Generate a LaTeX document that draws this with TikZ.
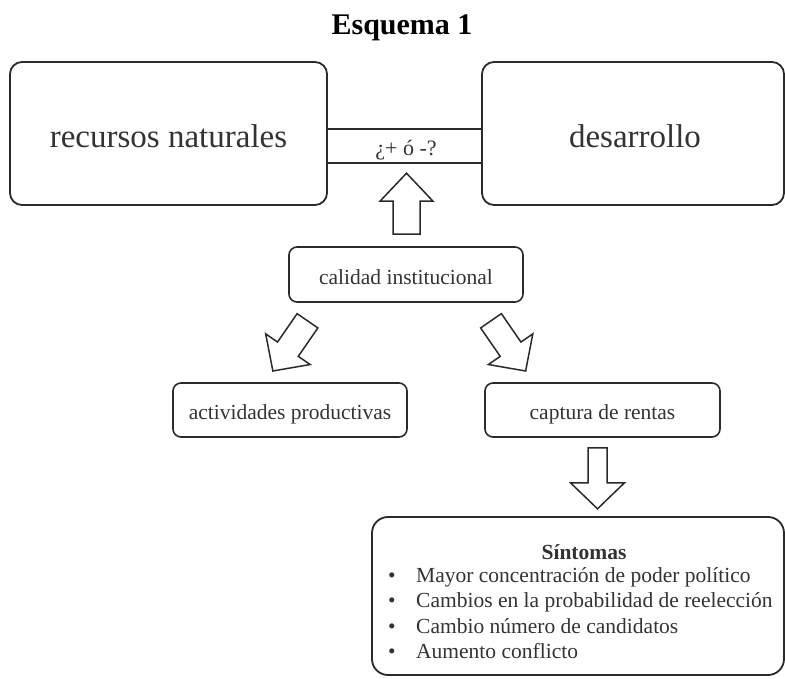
\documentclass[tikz,border=0pt]{standalone}
\usepackage{fontspec}
\setmainfont{Liberation Serif}
\usetikzlibrary{calc}
\definecolor{ink}{HTML}{2A2A2A}
\definecolor{txt}{HTML}{333333}
\newcommand\blkarrow[6]{%
  \draw[blockarr, shift={#1}, rotate=#2]
    (0,-#4) -- ({#3-#6},-#4) -- ({#3-#6},-#5) -- (#3,0) -- ({#3-#6},#5) -- ({#3-#6},#4) -- (0,#4) -- cycle;}
\tikzset{
  bigbox/.style={draw=ink, line width=1.8pt, rounded corners=12pt, inner sep=0pt},
  smallbox/.style={draw=ink, line width=1.6pt, rounded corners=8pt, inner sep=0pt, minimum width=234pt, minimum height=54pt},
  blockarr/.style={draw=ink, line width=1.5pt, fill=white, line join=miter},
  bigtxt/.style={text=txt, font=\fontsize{33}{36}\selectfont, inner sep=0pt, anchor=base},
  smalltxt/.style={text=txt, font=\fontsize{21.5}{25}\selectfont, inner sep=0pt},
}
\begin{document}
\begin{tikzpicture}[x=1pt,y=1pt]
\useasboundingbox (0,0) rectangle (785,-679);
% title
\node[text=black, font=\fontsize{30}{34}\selectfont\bfseries, inner sep=0pt, anchor=base] (title) at (402,-35) {Esquema 1};
% big boxes
\node[bigbox, minimum width=317pt, minimum height=143pt] (rn) at (168.5,-133.5) {};
\node[bigbox, minimum width=302pt, minimum height=143pt] (dev) at (633,-133.5) {};
\node[bigtxt] (rntxt) at (168.5,-148) {recursos naturales};
\node[bigtxt] (devtxt) at (635,-148) {desarrollo};
% band
\node[minimum width=155pt, minimum height=34pt, inner sep=0pt] (band) at (404.5,-146) {};
\draw[ink, line width=1.8pt] (band.north west) -- (band.north east);
\draw[ink, line width=1.8pt] (band.south west) -- (band.south east);
\node[smalltxt, font=\fontsize{22}{25}\selectfont, anchor=base] (bandtxt) at (406,-156) {¿+ ó -?};
% middle boxes
\node[smallbox, minimum height=55pt] (cal) at (406,-274.5) {};
\node[smalltxt, anchor=base] (caltxt) at (406,-284) {calidad institucional};
\node[smallbox] (act) at (290,-410) {};
\node[smalltxt, anchor=base] (acttxt) at (290,-419) {actividades productivas};
\node[smallbox, minimum width=235pt] (cap) at (602.5,-410) {};
\node[smalltxt, anchor=base] (captxt) at (602.5,-419) {captura de rentas};
% symptoms box
\node[draw=ink, line width=1.8pt, rounded corners=16pt, minimum width=412pt, minimum height=158pt, inner sep=0pt] (sint) at (578,-596) {};
\node[smalltxt, font=\fontsize{21.5}{25}\selectfont\bfseries, anchor=base] (sinttitle) at (584,-559) {Síntomas};
\foreach \y/\t [count=\i] in {582/{Mayor concentración de poder político},607/{Cambios en la probabilidad de reelección},633/{Cambio número de candidatos},658/{Aumento conflicto}}{
  \node[smalltxt, anchor=base] (b\i) at (392,-\y) {•};
  \node[smalltxt, anchor=base west] (it\i) at (416,-\y) {\t};
}
% block arrows
\coordinate (upS) at ($(cal.north)+(0.5,12)$);
\blkarrow{(upS)}{90}{61}{13.5}{26.5}{28}
\coordinate (lS) at ($(cal.south)+(-98.5,-18)$);
\blkarrow{(lS)}{235.4}{61}{12.6}{27}{26.5}
\coordinate (rS) at ($(cal.south)+(85,-18)$);
\blkarrow{(rS)}{304.6}{61}{12.6}{27}{26.5}
\coordinate (dS) at ($(cap.south)+(-5,-10)$);
\blkarrow{(dS)}{270}{61}{9.5}{27}{26}
\end{tikzpicture}
\end{document}
